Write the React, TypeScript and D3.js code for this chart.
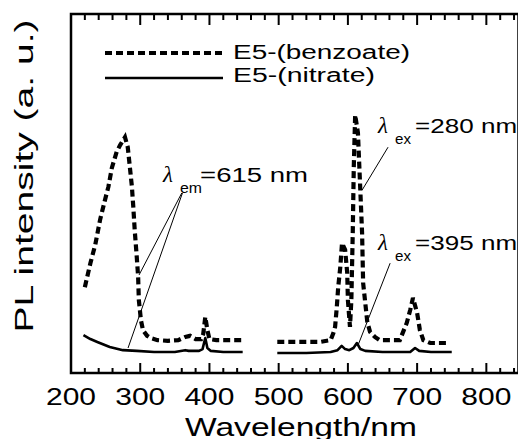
import React from "react";
import * as d3 from "d3";

// Wavelength (nm), PL intensity (a.u.)
const benzoateEx: [number, number][] = [
  [220, 237], [228, 304], [235, 355], [242, 425], [249, 480], [254, 517], [259, 570], [266, 615], [271, 634], [278, 656],
  [282, 628], [285, 573], [288, 517], [290, 461], [292, 397], [295, 321], [297, 265], [298, 201], [301, 145], [304, 117],
  [310, 101], [315, 95], [325, 89], [340, 87], [355, 89], [365, 98], [372, 101], [380, 92], [388, 92], [391, 106],
  [394, 154], [397, 117], [400, 92], [410, 89], [430, 89], [448, 89],
];
const benzoateEm: [number, number][] = [
  [498, 84], [520, 84], [560, 84], [575, 89], [579, 109], [581.5, 126], [584, 182], [586, 237], [589, 293], [591.5, 360],
  [596, 341], [599, 277], [600, 201], [603, 126], [605, 201], [607, 388], [608.5, 573], [610.5, 718], [614.5, 668],
  [617.5, 528], [620.5, 388], [622, 249], [628, 140], [632, 112], [639, 98], [646, 89], [657, 89], [675, 89], [685, 137],
  [690, 173], [694, 207], [700, 165], [704, 117], [709, 89], [719, 81], [742, 81],
];
const nitrateEx: [number, number][] = [
  [218, 103], [228, 92], [238, 84], [256, 70], [275, 61], [295, 59], [320, 56], [350, 56], [365, 61], [370, 59],
  [385, 59], [390, 64], [394, 95], [397, 67], [402, 59], [420, 56], [448, 56],
];
const nitrateEm: [number, number][] = [
  [498, 53], [540, 53], [575, 56], [585, 61], [591, 73], [596, 64], [602, 61], [608, 67], [613, 81], [618, 64],
  [625, 59], [650, 56], [690, 56], [697, 67], [703, 59], [720, 56], [750, 56],
];
const xTickLabels = [200, 300, 400, 500, 600, 700, 800];
const seriesNames = ["E5-(benzoate)", "E5-(nitrate)"];

// annotations: label anchor (wavelength, intensity), text, subscript, leader lines
const annotations = [
  { at: [333, 531], value: "=615 nm", sub: "em", lines: [[[360, 500], [298.3, 271]], [[361, 500], [282.4, 67]]] },
  { at: [643.6, 668], value: "=280 nm", sub: "ex", lines: [[[658, 628], [620.5, 508]]] },
  { at: [643.6, 341], value: "=395 nm", sub: "ex", lines: [[[661, 304], [614.7, 75]]] },
];

const FONT = "'Liberation Sans', Arial, sans-serif";

export default function App() {
  const left = 71, right = 517.5, top = 14, bottom = 373;
  const x = d3.scaleLinear().domain([200, 845]).range([left, right]);
  const y = d3.scaleLinear().domain([0, 1000]).range([372, 14]);
  const line = d3.line<[number, number]>().x(d => x(d[0])).y(d => y(d[1])).curve(d3.curveLinear);
  const major = d3.range(200, 841, 100);
  const minor = d3.range(200, 841, 20).filter(v => v % 100 !== 0);

  return (
    <svg width={518} height={439} style={{ position: "absolute", left: 0, top: 0, background: "#fff" }}
      fontFamily={FONT}>
      <rect x={0} y={0} width={518} height={439} fill="#fff" />
      {/* data */}
      {[benzoateEx, benzoateEm].map((s, i) => (
        <path key={"b" + i} d={line(s) || ""} fill="none" stroke="#000" strokeWidth={4.2}
          strokeDasharray="7,4" strokeLinejoin="miter" />
      ))}
      {[nitrateEx, nitrateEm].map((s, i) => (
        <path key={"n" + i} d={line(s) || ""} fill="none" stroke="#000" strokeWidth={2.6} strokeLinejoin="round" />
      ))}
      {/* frame */}
      <rect x={left} y={top} width={518.5 - left} height={bottom - top} fill="none" stroke="#000" strokeWidth={2.5} />
      {/* ticks */}
      {major.map(v => (
        <g key={"M" + v}>
          <line x1={x(v)} x2={x(v)} y1={bottom} y2={bottom - 10} stroke="#000" strokeWidth={2} />
          <line x1={x(v)} x2={x(v)} y1={top} y2={top + 11} stroke="#000" strokeWidth={2} />
        </g>
      ))}
      {minor.map(v => (
        <g key={"m" + v}>
          <line x1={x(v)} x2={x(v)} y1={bottom} y2={bottom - 5} stroke="#000" strokeWidth={2} />
          <line x1={x(v)} x2={x(v)} y1={top} y2={top + 6} stroke="#000" strokeWidth={2} />
        </g>
      ))}
      {xTickLabels.map(v => (
        <text key={"t" + v} x={x(v)} y={405} fontSize={24} textAnchor="middle" textLength={50}
          lengthAdjust="spacingAndGlyphs">{v}</text>
      ))}
      <text x={301} y={436} fontSize={25} textAnchor="middle" textLength={232} lengthAdjust="spacingAndGlyphs">
        Wavelength/nm
      </text>
      <text transform="translate(33,176) rotate(-90)" fontSize={26} textAnchor="middle" textLength={313}
        lengthAdjust="spacingAndGlyphs">PL intensity (a. u.)</text>
      {/* legend */}
      <line x1={105} x2={223} y1={53} y2={53} stroke="#000" strokeWidth={4.2} strokeDasharray="7,4" />
      <text x={233} y={59} fontSize={20} textLength={177} lengthAdjust="spacingAndGlyphs">{seriesNames[0]}</text>
      <line x1={105} x2={223} y1={78} y2={78} stroke="#000" strokeWidth={2.6} />
      <text x={233} y={82} fontSize={20} textLength={142} lengthAdjust="spacingAndGlyphs">{seriesNames[1]}</text>
      {/* annotations */}
      {annotations.map((a, i) => {
        const ax = x(a.at[0]), ay = y(a.at[1]);
        return (
          <g key={"a" + i}>
            <text x={ax} y={ay} fontSize={23} fontStyle="italic" fontFamily="'Liberation Serif', serif">λ</text>
            <text x={ax + 17} y={ay + 11} fontSize={14} textLength={a.sub === "em" ? 22 : 16}
              lengthAdjust="spacingAndGlyphs">{a.sub}</text>
            <text x={ax + 37} y={ay} fontSize={20} textLength={a.sub === "em" ? 108 : 102}
              lengthAdjust="spacingAndGlyphs">{a.value}</text>
            {a.lines.map((l, j) => (
              <line key={j} x1={x(l[0][0])} y1={y(l[0][1])} x2={x(l[1][0])} y2={y(l[1][1])} stroke="#000" strokeWidth={1} />
            ))}
          </g>
        );
      })}
    </svg>
  );
}
